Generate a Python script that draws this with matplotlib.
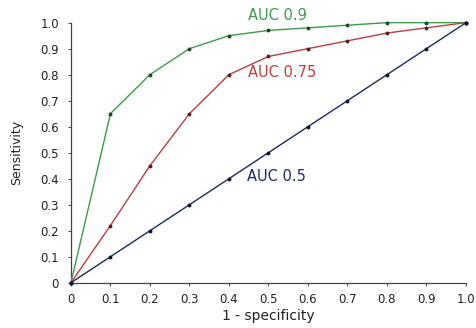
import matplotlib

matplotlib.use("Agg")
import matplotlib.pyplot as plt

plt.rcParams["font.family"] = ["DejaVu Sans"]

fpr = [0, 0.1, 0.2, 0.3, 0.4, 0.5, 0.6, 0.7, 0.8, 0.9, 1.0]
tpr_auc_09 = [0, 0.65, 0.80, 0.90, 0.95, 0.97, 0.98, 0.99, 1.0, 1.0, 1.0]
tpr_auc_075 = [0, 0.22, 0.45, 0.65, 0.80, 0.87, 0.90, 0.93, 0.96, 0.98, 1.0]
tpr_auc_05 = [0, 0.1, 0.2, 0.3, 0.4, 0.5, 0.6, 0.7, 0.8, 0.9, 1.0]
ticks = [0, 0.1, 0.2, 0.3, 0.4, 0.5, 0.6, 0.7, 0.8, 0.9, 1.0]
tick_labels = ["0", "0.1", "0.2", "0.3", "0.4", "0.5", "0.6", "0.7", "0.8", "0.9", "1.0"]

fig = plt.figure(figsize=(4.76, 3.28), dpi=100)
ax = fig.add_axes([0.149, 0.138, 0.83, 0.793])

curves = [
    (tpr_auc_09, "#3f9a4c", "#1f4a25", "AUC 0.9", (0.447, 1.027)),
    (tpr_auc_075, "#b94040", "#5a2020", "AUC 0.75", (0.447, 0.81)),
    (tpr_auc_05, "#1e2a5e", "#101530", "AUC 0.5", (0.445, 0.407)),
]
for tpr, color, mcolor, label, (tx, ty) in curves:
    ax.plot(fpr, tpr, color=color, lw=1.0, marker="o", ms=1.8,
            mfc=mcolor, mec=mcolor, clip_on=False, zorder=3)
    ax.text(tx, ty, label, color=color, fontsize=10.5, va="center",
            ha="left", clip_on=False)

ax.set_xlim(0, 1.0)
ax.set_ylim(0, 1.0)
ax.set_xticks(ticks)
ax.set_xticklabels(tick_labels)
ax.set_yticks(ticks)
ax.set_yticklabels(tick_labels)
ax.tick_params(labelsize=8.5, length=2.5, width=0.8, color="#555555",
               labelcolor="#222222")
ax.tick_params(axis="x", pad=5)
ax.tick_params(axis="y", pad=6)
ax.spines["top"].set_visible(False)
ax.spines["right"].set_visible(False)
for side in ("left", "bottom"):
    ax.spines[side].set_color("#444444")
    ax.spines[side].set_linewidth(0.9)

ax.set_xlabel("1 - specificity", fontsize=10, labelpad=2, color="#222222")
ax.set_ylabel("Sensitivity", fontsize=9, color="#222222")
ax.yaxis.set_label_coords(-0.122, 0.5)

fig.savefig("out.png", dpi=100)
